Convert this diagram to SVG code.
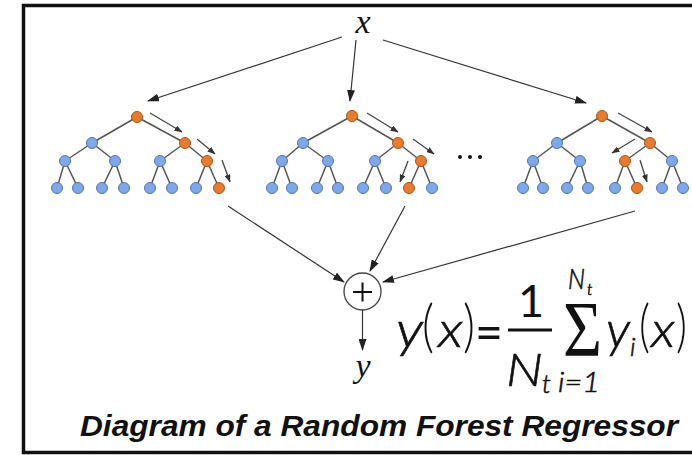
<svg xmlns="http://www.w3.org/2000/svg" width="692" height="455" viewBox="0 0 692 455">
<defs>
<marker id="ah" markerWidth="12" markerHeight="8" refX="11" refY="4" orient="auto" markerUnits="userSpaceOnUse"><path d="M0,0 L12,4 L0,8 z" fill="#222"/></marker>
<marker id="ahs" markerWidth="8" markerHeight="6" refX="7.5" refY="3" orient="auto" markerUnits="userSpaceOnUse"><path d="M0,0 L8,3 L0,6 z" fill="#333"/></marker>
<style>
.e{stroke:#555;stroke-width:1.5;fill:none}
.b{fill:#7fa8ea;stroke:#4f76b5;stroke-width:1}
.o{fill:#ec7a2c;stroke:#a9551c;stroke-width:1}
.c{stroke:#333;stroke-width:1.2;fill:none;marker-end:url(#ah)}
.s{stroke:#444;stroke-width:1.3;fill:none;marker-end:url(#ahs)}
.m{font-family:Lato,"Liberation Sans",Arial,sans-serif;font-weight:300;font-style:italic;fill:#111;stroke:#111;stroke-width:0.6}
.u{font-family:Lato,"Liberation Sans",Arial,sans-serif;font-weight:300;fill:#111}
.g{font-family:"Liberation Serif","Times New Roman",serif;fill:#111}
.v{font-family:"Liberation Serif","Times New Roman",serif;font-style:italic;fill:#111}
</style>
</defs>
<rect x="23.5" y="5.5" width="700" height="447" fill="#fff" stroke="#111" stroke-width="3.5"/>

<g id="input-x"><text class="v" x="363" y="33" font-size="34" text-anchor="middle">x</text></g>

<g id="tree1">
<path class="e" d="M137,117L92,143M137,117L185,143M92,143L65,161M92,143L115,161M185,143L160,161M185,143L207,161M65,161L57,188M65,161L78,188M115,161L102,188M115,161L124,188M160,161L150,188M160,161L172,188M207,161L196,188M207,161L219,188"/>
<circle class="o" cx="137" cy="117" r="5.5"/>
<circle class="b" cx="92" cy="143" r="5.5"/><circle class="o" cx="185" cy="143" r="5.5"/>
<circle class="b" cx="65" cy="161" r="5.5"/><circle class="b" cx="115" cy="161" r="5.5"/><circle class="b" cx="160" cy="161" r="5.5"/><circle class="o" cx="207" cy="161" r="5.5"/>
<circle class="b" cx="57" cy="188" r="5.5"/><circle class="b" cx="78" cy="188" r="5.5"/><circle class="b" cx="102" cy="188" r="5.5"/><circle class="b" cx="124" cy="188" r="5.5"/><circle class="b" cx="150" cy="188" r="5.5"/><circle class="b" cx="172" cy="188" r="5.5"/><circle class="b" cx="196" cy="188" r="5.5"/><circle class="o" cx="219" cy="188" r="5.5"/>
<path class="s" d="M150,113L182,132"/><path class="s" d="M197,139L215,154"/><path class="s" d="M222,160L230,182"/>
</g>

<g id="tree2">
<path class="e" d="M352,116L303,143M352,116L398,143M303,143L282,161M303,143L328,161M398,143L375,161M398,143L421,161M282,161L272,188M282,161L292,188M328,161L317,188M328,161L338,188M375,161L363,188M375,161L386,188M421,161L409,188M421,161L432,188"/>
<circle class="o" cx="352" cy="116" r="5.5"/>
<circle class="b" cx="303" cy="143" r="5.5"/><circle class="o" cx="398" cy="143" r="5.5"/>
<circle class="b" cx="282" cy="161" r="5.5"/><circle class="b" cx="328" cy="161" r="5.5"/><circle class="b" cx="375" cy="161" r="5.5"/><circle class="o" cx="421" cy="161" r="5.5"/>
<circle class="b" cx="272" cy="188" r="5.5"/><circle class="b" cx="292" cy="188" r="5.5"/><circle class="b" cx="317" cy="188" r="5.5"/><circle class="b" cx="338" cy="188" r="5.5"/><circle class="b" cx="363" cy="188" r="5.5"/><circle class="b" cx="386" cy="188" r="5.5"/><circle class="o" cx="409" cy="188" r="5.5"/><circle class="b" cx="432" cy="188" r="5.5"/>
<path class="s" d="M367,113L398,132"/><path class="s" d="M413,139L434,154"/><path class="s" d="M408,161L400,182"/>
</g>

<g id="ellipsis"><circle cx="460" cy="157" r="2" fill="#111"/><circle cx="470" cy="157" r="2" fill="#111"/><circle cx="480" cy="157" r="2" fill="#111"/></g>

<g id="tree3">
<path class="e" d="M602,116L557,143M602,116L650,143M557,143L533,161M557,143L580,161M650,143L625,161M650,143L672,161M533,161L523,188M533,161L543,188M580,161L567,188M580,161L588,188M625,161L615,188M625,161L637,188M672,161L662,188M672,161L683,188"/>
<circle class="o" cx="602" cy="116" r="5.5"/>
<circle class="b" cx="557" cy="143" r="5.5"/><circle class="o" cx="650" cy="143" r="5.5"/>
<circle class="b" cx="533" cy="161" r="5.5"/><circle class="b" cx="580" cy="161" r="5.5"/><circle class="o" cx="625" cy="161" r="5.5"/><circle class="b" cx="672" cy="161" r="5.5"/>
<circle class="b" cx="523" cy="188" r="5.5"/><circle class="b" cx="543" cy="188" r="5.5"/><circle class="b" cx="567" cy="188" r="5.5"/><circle class="b" cx="588" cy="188" r="5.5"/><circle class="b" cx="615" cy="188" r="5.5"/><circle class="o" cx="637" cy="188" r="5.5"/><circle class="b" cx="662" cy="188" r="5.5"/><circle class="b" cx="683" cy="188" r="5.5"/>
<path class="s" d="M618,113L652,132"/><path class="s" d="M635,139L612,153"/><path class="s" d="M640,160L647,182"/>
</g>

<g id="sum-node">
<circle cx="362.5" cy="291.5" r="18.5" fill="#fff" stroke="#444" stroke-width="1.3"/>
<path d="M353,292H372M362.5,282.5V301.5" stroke="#111" stroke-width="2" fill="none"/>
</g>

<g id="output-y"><text class="v" x="363" y="377" font-size="34" text-anchor="middle">y</text></g>

<g id="connectors">
<path class="c" d="M342,37L148,101"/>
<path class="c" d="M356,40L350,101"/>
<path class="c" d="M383,40L586,103"/>
<path class="c" d="M228,206L344,282"/>
<path class="c" d="M405,206L370,271"/>
<path class="c" d="M635,211L383,282"/>
<path class="c" d="M362.5,310L362.5,350"/>
</g>

<g id="formula">
<text class="m" x="396" y="347" font-size="50" textLength="27" lengthAdjust="spacingAndGlyphs">y</text>
<text class="u" x="422" y="346" font-size="58" textLength="12" lengthAdjust="spacingAndGlyphs">(</text>
<text class="m" x="438" y="347" font-size="50" textLength="25" lengthAdjust="spacingAndGlyphs">x</text>
<text class="u" x="463" y="346" font-size="58" textLength="12" lengthAdjust="spacingAndGlyphs">)</text>
<text class="u" x="475" y="350" font-size="50" textLength="28" lengthAdjust="spacingAndGlyphs" style="font-weight:400">=</text>
<line x1="508" y1="330" x2="552" y2="330" stroke="#111" stroke-width="3"/>
<text class="u" x="531" y="317" font-size="45" text-anchor="middle" style="font-weight:400">1</text>
<text class="m" x="506" y="386" font-size="46" textLength="37" lengthAdjust="spacingAndGlyphs">N</text>
<text class="m" x="542" y="393" font-size="26">t</text>
<text class="g" x="563" y="355" font-size="78" textLength="39" lengthAdjust="spacingAndGlyphs">Σ</text>
<text class="m" x="568" y="289" font-size="28" textLength="17" lengthAdjust="spacingAndGlyphs">N</text>
<text class="m" x="587" y="295" font-size="16">t</text>
<text class="m" x="558" y="392" font-size="28" textLength="42" lengthAdjust="spacingAndGlyphs">i=1</text>
<text class="m" x="606" y="347" font-size="50" textLength="24" lengthAdjust="spacingAndGlyphs">y</text>
<text class="m" x="630" y="356" font-size="26">i</text>
<text class="u" x="639" y="346" font-size="58" textLength="11" lengthAdjust="spacingAndGlyphs">(</text>
<text class="m" x="651" y="347" font-size="50" textLength="24" lengthAdjust="spacingAndGlyphs">x</text>
<text class="u" x="676" y="346" font-size="58" textLength="11" lengthAdjust="spacingAndGlyphs">)</text>
</g>

<g id="title"><text x="80" y="436" font-family="'Liberation Sans',Arial,sans-serif" font-weight="bold" font-style="italic" font-size="29" fill="#111" textLength="598" lengthAdjust="spacingAndGlyphs">Diagram of a Random Forest Regressor</text></g>
</svg>
